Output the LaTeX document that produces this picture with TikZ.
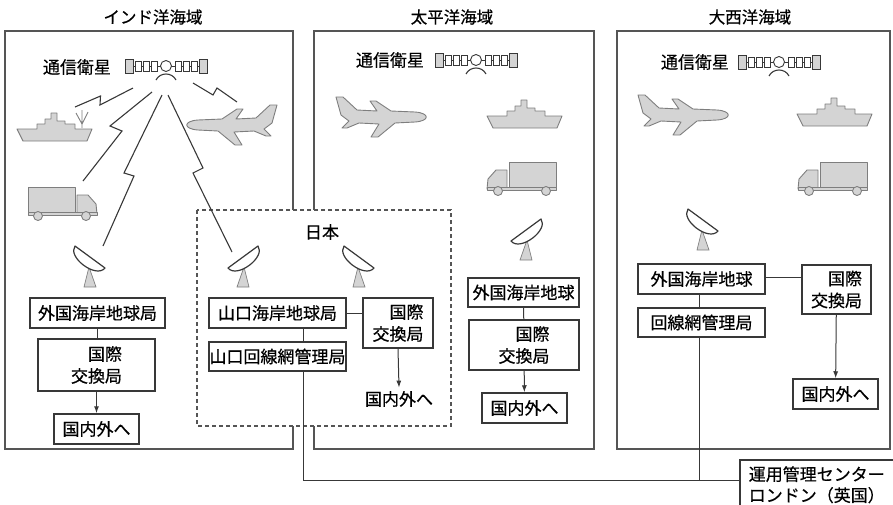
\documentclass[tikz,border=0pt]{standalone}
\usepackage{fontspec}
\setmainfont{Noto Sans CJK JP}[FakeBold=0.5]
\usetikzlibrary{arrows.meta}

\definecolor{ink}{HTML}{383838}
\definecolor{frame}{HTML}{555555}
\definecolor{vfill}{HTML}{D4D4D4}
\definecolor{vline}{HTML}{7E7E7E}

\tikzset{
  box/.style={draw=ink, line width=1.5pt, fill=white, inner sep=0pt, align=center},
  region/.style={draw=frame, line width=1.2pt},
  link/.style={draw=ink, line width=1pt},
  arr/.style={link, -{Latex[length=7pt,width=5pt]}},
  bolt/.style={draw=ink, line width=1.1pt, line join=miter},
  veh/.style={fill=vfill, draw=vline, line width=0.9pt, line join=round},
  title/.style={font=\fontsize{16.5}{20}\selectfont},
  % communication satellite
  pics/sat/.style={code={
    \path[draw=ink, line width=0.8pt, fill=vfill] (-41,-7) rectangle (-33,7) (33,-7) rectangle (41,7);
    \draw[ink, line width=0.8pt] (-33,0) -- (-5,0) (5,0) -- (33,0);
    \draw[ink, line width=0.8pt, fill=white] (-31,-5) rectangle (-25,5) (-23,-5) rectangle (-17,5)
      (-15,-5) rectangle (-9,5) (9,-5) rectangle (15,5) (17,-5) rectangle (23,5) (25,-5) rectangle (31,5);
    \draw[ink, line width=0.9pt, fill=white] (0,0) circle[radius=5.5pt];
    \draw[ink, line width=1.1pt] (-10,14) .. controls (-6,6) and (6,6) .. (10,14);
  }},
  % parabolic antenna, dish opening up and to the right
  pics/dish/.style={code={
    \draw[vline, fill=vfill, line width=0.7pt] (-1,-20) -- (-6,0) -- (6,0) -- cycle;
    \draw[ink, line width=1.2pt, fill=white, line join=round]
      (-15,-41) .. controls (-23,-30) and (6,-8) .. (15,-19) -- cycle;
  }},
  pics/ship/.style={code={
    \draw[veh] (0,16) -- (20,16) -- (20,11) -- (28,11) -- (28,6) -- (34,6) -- (34,0) -- (40,0)
      -- (40,8) -- (48,8) -- (48,11) -- (58,11) -- (58,16) -- (75,16) -- (70,28) -- (6,28) -- cycle;
  }},
  % truck, cab on the right
  pics/truck/.style={code={
    \draw[veh] (0,0) rectangle (47,25);
    \draw[veh] (49,26) -- (49,8) -- (60,8) -- (68,17) -- (69,27) -- cycle;
    \draw[veh] (0,25) rectangle (69,28);
    \draw[veh] (10,29) circle[radius=4.5pt] (58,29) circle[radius=4.5pt];
  }},
  % aeroplane, nose on the right
  pics/plane/.style={code={
    \draw[veh] (8,18) -- (3,0) -- (10,0) -- (24,13) -- (44,14) -- (37,4) -- (43,4) -- (58,14)
      -- (82,15) .. controls (97,16) and (97,24) .. (82,25) -- (62,26) -- (45,40) -- (38,40)
      -- (46,27) -- (26,26) -- (14,31) -- (9,31) -- (16,24) -- cycle;
  }}
}

\begin{document}
\begin{tikzpicture}[x=1pt, y=-1pt, font=\fontsize{17}{22}\selectfont]
\useasboundingbox (0,0) rectangle (893,504);
\clip (0,0) rectangle (893,504);

% ocean regions
\node[title] (tind) at (153,17) {インド洋海域};
\node[title] (tpac) at (452,17) {太平洋海域};
\node[title] (tatl) at (750,17) {大西洋海域};
\draw[region] (5,31) rectangle (293,449);
\draw[region] (314,31) rectangle (594,449);
\draw[region] (617,31) rectangle (890,449);

% Japan
\draw[draw=frame, line width=1.2pt, dashed, dash pattern=on 4pt off 3pt, fill=white] (197,210) rectangle (451,426);
\node (jp) at (322,232) {日本};

% satellites
\node (lind) at (77,67) {通信衛星};
\pic at (166,66) {sat};
\node (lpac) at (390,60) {通信衛星};
\pic at (476,60) {sat};
\node (latl) at (695,62) {通信衛星};
\pic at (779,62) {sat};

% vehicles
\pic at (17,113) {ship};
\draw[vline, line width=0.9pt] (82,128) -- (82,110) (82,124) -- (76,113) (82,124) -- (88,112);
\pic at (487,100) {ship};
\pic at (797,98) {ship};
\pic at (28,187) {truck};
\pic[xscale=-1] at (556,162) {truck};
\pic[xscale=-1] at (867,162) {truck};
\pic[xscale=-1] at (280,105) {plane};
\pic at (333,97) {plane};
\pic at (635,95) {plane};

% radio links of the Indian Ocean satellite
\draw[bolt] (75,107) -- (100.5,96) -- (100,105) -- (133,88);
\draw[bolt] (193,83) -- (213,95) -- (217,88) -- (237,102);
\draw[bolt] (152,92) -- (110,126) -- (122,131) -- (83,181);
\draw[bolt] (162,95) -- (124,173) -- (134,176) -- (103,246);
\draw[bolt] (168,95) -- (203,168) -- (193,173) -- (232,252);

% earth station antennas
\pic at (90,287) {dish};
\pic[xscale=-1] at (243,287) {dish};
\pic at (359,287) {dish};
\pic[xscale=-1] at (526,260) {dish};
\pic at (703,250) {dish};

% Indian Ocean stations
\node[box, minimum width=135pt, minimum height=30pt] (ik) at (97.5,313) {外国海岸地球局};
\node[box, minimum width=117pt, minimum height=52pt, align=right] (ix) at (96.5,365) {国際\\交換局};
\node[box, minimum width=85pt, minimum height=30pt] (io) at (96.5,429) {国内外へ};
\draw[link] (ik) -- (ik |- ix.north);
\draw[arr] (ix) -- (io);

% Japanese stations
\node[box, minimum width=137pt, minimum height=30pt] (jk) at (277.5,313) {山口海岸地球局};
\node[box, minimum width=137pt, minimum height=29pt] (jm) at (277.5,356.5) {山口回線網管理局};
\node[box, minimum width=70pt, minimum height=50pt, align=right] (jx) at (398,323) {国際\\交換局};
\node (jo) at (399,399) {国内外へ};
\draw[link] ([xshift=25.5pt]jk.south) -- ([xshift=25.5pt]jm.north);
\draw[link] (jk.east) -- (jk.east -| jx.west);
\draw[arr] (jx.south) -- (jo.north);

% Pacific stations
\node[box, minimum width=111pt, minimum height=29pt] (pk) at (523.5,292.5) {外国海岸地球};
\node[box, minimum width=110pt, minimum height=50pt, align=right] (px) at (524,345) {国際\\交換局};
\node[box, minimum width=85pt, minimum height=30pt] (po) at (524.5,408) {国内外へ};
\draw[link] (pk) -- (px);
\draw[arr] (px) -- (po);

% Atlantic stations
\node[box, minimum width=127pt, minimum height=30pt] (ak) at (701.5,279) {外国海岸地球};
\node[box, minimum width=127pt, minimum height=29pt] (am) at (701.5,322.5) {回線網管理局};
\node[box, minimum width=69pt, minimum height=49pt, align=right] (ax) at (836.5,289.5) {国際\\交換局};
\node[box, minimum width=85pt, minimum height=30pt] (ao) at (835.5,394) {国内外へ};
\draw[link] ([xshift=-2.5pt]ak.south) -- ([xshift=-2.5pt]am.north);
\draw[link] ([yshift=2pt]ak.east) -- ([yshift=2pt]ak.east -| ax.west);
\draw[arr] (ax) -- (ao);

% operations centre
\node[box, anchor=north west, text width=170pt, align=left, inner xsep=9pt, inner ysep=6.5pt,
      font=\fontsize{17}{21}\selectfont] (lc) at (739,459) {運用管理センター\\ロンドン（英国）};
\coordinate (lcin) at (739,480);
\draw[link] ([xshift=25.5pt]jm.south) |- (lcin);
\draw[link] ([xshift=-2.5pt]am.south) -- ([xshift=-2.5pt]am.south |- lcin);
\end{tikzpicture}
\end{document}
